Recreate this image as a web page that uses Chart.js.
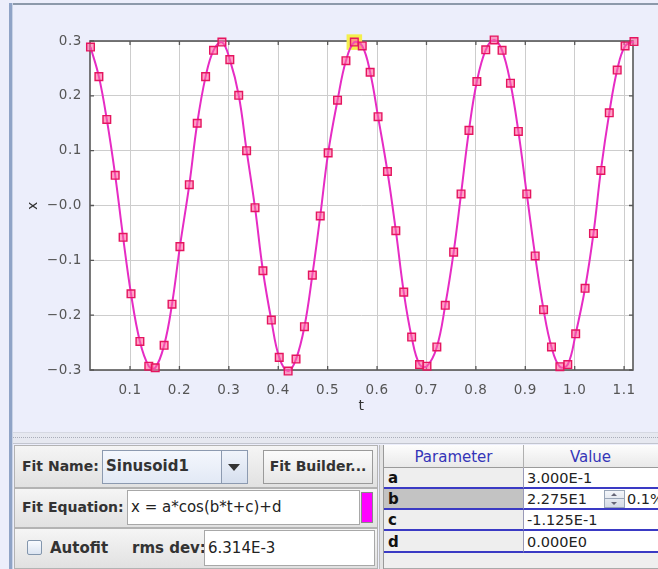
<!DOCTYPE html>
<html><head><meta charset="utf-8">
<script src="https://cdn.jsdelivr.net/npm/chart.js@4"></script>
<style>
html,body{margin:0;padding:0;}
body{width:658px;height:569px;position:relative;overflow:hidden;background:#eceefb;font-family:"DejaVu Sans",sans-serif;color:#222;}
.abs{position:absolute;box-sizing:border-box;}
#frameTop{left:9px;top:3px;right:0;height:2px;background:#8c99aa;}
#frameLeft{left:9px;top:3px;width:4px;bottom:0;background:#8fa3c6;border-right:1px solid #c9d3e6;}
#chartBox{left:0;top:0;width:658px;height:430px;}
#band{left:13px;right:0;top:432px;height:12px;background:#e6e8f0;border-top:1px solid #d5d8e2;border-bottom:1px solid #c2c5cf;}
#band:after{content:"";position:absolute;left:0;right:0;top:4px;border-top:1px dotted #a9adb9;}
.row{left:14px;width:364px;border:1px solid #b3b3b3;background:linear-gradient(#f5f5f5,#e1e1e1);}
.lbl{font-weight:bold;font-size:14px;color:#333;white-space:nowrap;}
.field{background:#fff;border:1px solid #a8a8a8;font-size:15px;color:#222;white-space:nowrap;padding-left:3px;}
.tbl{font-size:15px;white-space:nowrap;}
.pc{left:384px;width:139px;background:#eeeeee;border-bottom:2px solid #3a3ac4;font-weight:bold;color:#111;padding-left:4px;}
.vc{left:523px;width:135px;background:#fff;border-bottom:2px solid #3a3ac4;border-left:1px solid #9a9ab8;font-size:14.5px;color:#222;padding-left:3px;}
</style></head>
<body>
<div id="chartBox" class="abs"><canvas id="c" width="658" height="430"></canvas></div>
<div id="frameTop" class="abs"></div>
<div id="frameLeft" class="abs"></div>
<div id="band" class="abs"></div>

<!-- row 1 -->
<div class="abs row" style="top:445px;height:43px;"></div>
<div class="abs lbl" style="left:22px;top:458px;">Fit Name:</div>
<div class="abs" style="left:102px;top:450px;width:146px;height:34px;border:1px solid #8c9ab0;background:linear-gradient(#f4f7fd,#e2e9f5);"></div>
<div class="abs lbl" style="left:106px;top:457px;font-size:15px;color:#333;">Sinusoid1</div>
<div class="abs" style="left:221px;top:451px;width:26px;height:32px;border-left:1px solid #8c9ab0;background:linear-gradient(#f0f4fb,#d6dfee);"></div>
<div class="abs" style="left:228px;top:464px;width:0;height:0;border-left:6px solid transparent;border-right:6px solid transparent;border-top:7px solid #333;"></div>
<div class="abs" style="left:263px;top:450px;width:110px;height:34px;border:1px solid #9a9a9a;background:linear-gradient(#fbfbfb,#e6e6e6);"></div>
<div class="abs lbl" style="left:263px;top:458px;width:110px;text-align:center;">Fit Builder...</div>

<!-- row 2 -->
<div class="abs row" style="top:488px;height:40px;"></div>
<div class="abs lbl" style="left:22px;top:499px;">Fit Equation:</div>
<div class="abs field" style="left:127px;top:490px;width:233px;height:35px;line-height:33px;">x = a*cos(b*t+c)+d</div>
<div class="abs" style="left:361px;top:492px;width:12px;height:31px;background:#ff00ff;border:1px solid #888;"></div>

<!-- row 3 -->
<div class="abs row" style="top:528px;height:41px;"></div>
<div class="abs" style="left:27px;top:540px;width:15px;height:15px;border:1px solid #8396ad;background:linear-gradient(#f9fbff,#dbe4f1);border-radius:2px;"></div>
<div class="abs lbl" style="left:50px;top:539px;font-size:15px;">Autofit</div>
<div class="abs lbl" style="left:132px;top:539px;font-size:15px;">rms dev:</div>
<div class="abs field" style="left:204px;top:530px;width:171px;height:36px;line-height:34px;">6.314E-3</div>

<!-- table -->
<div class="abs" style="left:379px;top:445px;width:5px;height:124px;background:#e3e3e3;border-left:1px solid #bbb;border-right:1px solid #999;"></div>
<div class="abs tbl" style="left:384px;top:445px;width:274px;height:23px;background:linear-gradient(#fdfdfd,#e9e9e9);border-bottom:1px solid #9a9a9a;"></div>
<div class="abs tbl" style="left:384px;top:448px;width:139px;text-align:center;color:#3535b8;">Parameter</div>
<div class="abs" style="left:523px;top:445px;width:1px;height:23px;background:#b0b0b0;"></div>
<div class="abs tbl" style="left:523px;top:448px;width:135px;text-align:center;color:#3535b8;">Value</div>

<div class="abs tbl pc" style="top:468px;height:21px;line-height:21px;">a</div>
<div class="abs tbl vc" style="top:468px;height:21px;line-height:21px;">3.000E-1</div>
<div class="abs tbl pc" style="top:489px;height:21px;line-height:21px;background:#c3c3c3;">b</div>
<div class="abs tbl vc" style="top:489px;height:21px;line-height:21px;">2.275E1</div>
<div class="abs" style="left:604px;top:490px;width:21px;height:18px;border:1px solid #9aa6b8;background:linear-gradient(#f4f6fa,#d5dbe5);"></div>
<div class="abs" style="left:611px;top:493px;width:0;height:0;border-left:3px solid transparent;border-right:3px solid transparent;border-bottom:3px solid #667;"></div>
<div class="abs" style="left:604px;top:498px;width:21px;height:1px;background:#9aa6b8;"></div>
<div class="abs" style="left:611px;top:502px;width:0;height:0;border-left:3px solid transparent;border-right:3px solid transparent;border-top:3px solid #667;"></div>
<div class="abs tbl" style="left:627px;top:489px;font-size:14.5px;line-height:21px;color:#222;">0.1%</div>
<div class="abs tbl pc" style="top:510px;height:21px;line-height:21px;">c</div>
<div class="abs tbl vc" style="top:510px;height:21px;line-height:21px;">-1.125E-1</div>
<div class="abs tbl pc" style="top:531px;height:22px;line-height:22px;">d</div>
<div class="abs tbl vc" style="top:531px;height:22px;line-height:22px;">0.000E0</div>
<div class="abs" style="left:384px;top:553px;width:274px;height:16px;background:#efefef;border-bottom:1px solid #aaa;"></div>

<script>
// ---- data ----
const tVals = [0.020,0.037,0.053,0.070,0.086,0.102,0.120,0.138,0.151,0.169,
  0.185,0.201,0.220,0.236,0.253,0.269,0.286,0.302,0.320,0.336,
  0.353,0.369,0.386,0.402,0.420,0.436,0.453,0.469,0.485,0.501,
  0.520,0.537,0.554,0.570,0.586,0.602,0.621,0.638,0.654,0.670,
  0.686,0.701,0.721,0.738,0.755,0.770,0.786,0.802,0.820,0.837,
  0.853,0.870,0.886,0.903,0.920,0.937,0.953,0.970,0.986,1.002,
  1.021,1.038,1.053,1.070,1.086,1.102,1.120];
const xVals = [0.289,0.235,0.157,0.055,-0.058,-0.161,-0.248,-0.293,-0.296,-0.255,
  -0.180,-0.075,0.038,0.150,0.235,0.283,0.298,0.266,0.201,0.100,
  -0.004,-0.119,-0.209,-0.277,-0.302,-0.280,-0.221,-0.127,-0.019,0.096,
  0.192,0.264,0.298,0.291,0.243,0.162,0.062,-0.046,-0.158,-0.240,
  -0.290,-0.293,-0.258,-0.182,-0.085,0.021,0.137,0.226,0.284,0.302,
  0.283,0.223,0.135,0.021,-0.092,-0.190,-0.258,-0.294,-0.290,-0.234,
  -0.151,-0.051,0.064,0.169,0.247,0.291,0.299];
const highlightT = [0.554];
const highlightX = [0.298];
const xTicks = [0.1,0.2,0.3,0.4,0.5,0.6,0.7,0.8,0.9,1.0,1.1];
const xTickLabels = ["0.1","0.2","0.3","0.4","0.5","0.6","0.7","0.8","0.9","1.0","1.1"];
const yTicks = [-0.3,-0.2,-0.1,0.0,0.1,0.2,0.3];
const yTickLabels = ["\u22120.3","\u22120.2","\u22120.1","\u22120.0","0.1","0.2","0.3"];
const xRange = [0.019, 1.118];
const yRange = [-0.3, 0.3];

const points = tVals.map((t,i)=>({x:t,y:xVals[i]}));
const hiPoints = highlightT.map((t,i)=>({x:t,y:highlightX[i]}));

const framePlugin = {
  id:'frame',
  beforeDraw(chart){
    const {ctx, chartArea:a} = chart;
    ctx.save(); ctx.fillStyle='#ffffff';
    ctx.fillRect(a.left,a.top,a.right-a.left,a.bottom-a.top); ctx.restore();
    ctx.letterSpacing = '0.6px';
  },
  beforeDatasetsDraw(chart){
    const {ctx, chartArea:a, scales} = chart;
    const xs = scales.x, ys = scales.y;
    ctx.save();
    ctx.strokeStyle='#585858'; ctx.lineWidth=1.6;
    ctx.strokeRect(a.left,a.top,a.right-a.left,a.bottom-a.top);
    ctx.lineWidth=1.3; ctx.beginPath();
    xs.ticks.forEach(t=>{const p=xs.getPixelForValue(t.value);
      ctx.moveTo(p,a.bottom); ctx.lineTo(p,a.bottom-4);
      ctx.moveTo(p,a.top); ctx.lineTo(p,a.top+4);});
    ys.ticks.forEach(t=>{const p=ys.getPixelForValue(t.value);
      ctx.moveTo(a.left,p); ctx.lineTo(a.left+4,p);
      ctx.moveTo(a.right,p); ctx.lineTo(a.right-4,p);});
    ctx.stroke(); ctx.restore();
  },
  afterDraw(chart){ chart.ctx.letterSpacing = '0px'; }
};

const tickFont = {family:'DejaVu Sans', size:13.5};
new Chart(document.getElementById('c'), {
  type:'line',
  data:{datasets:[
    {data:points, order:1, borderColor:'#e62cc4', borderWidth:2, tension:0.4,
     pointStyle:'rect', pointRadius:5.4, pointHoverRadius:5.4,
     pointBackgroundColor:'rgba(255,100,160,0.6)', pointBorderColor:'#e5155f', pointBorderWidth:1.4,
     clip:false},
    {data:hiPoints, order:2, showLine:false, pointStyle:'rect', pointRadius:11,
     pointBackgroundColor:'#f4ef4e', pointBorderWidth:0, clip:false}
  ]},
  plugins:[framePlugin],
  options:{
    responsive:false, animation:false, events:[],
    layout:{padding:{left:25,top:41,right:25,bottom:15}},
    plugins:{legend:{display:false}, tooltip:{enabled:false}},
    scales:{
      x:{type:'linear', min:xRange[0], max:xRange[1],
        afterBuildTicks:s=>{s.ticks = xTicks.map(v=>({value:v}));},
        afterFit:s=>{s.height = 45;},
        grid:{color:'#cdcdcd', drawTicks:false, lineWidth:1},
        border:{display:false},
        ticks:{color:'#555', font:tickFont, padding:12, maxRotation:0, autoSkip:false,
          callback:(v,i)=>xTickLabels[i]},
        title:{display:true, text:'t', color:'#333', font:{family:'DejaVu Sans',size:14}, padding:0}
      },
      y:{type:'linear', min:yRange[0], max:yRange[1],
        afterBuildTicks:s=>{s.ticks = yTicks.map(v=>({value:v}));},
        afterFit:s=>{s.width = 65;},
        grid:{color:'#cdcdcd', drawTicks:false, lineWidth:1},
        border:{display:false},
        ticks:{color:'#555', font:tickFont, padding:8, autoSkip:false,
          callback:(v,i)=>yTickLabels[i]},
        title:{display:true, text:'x', color:'#333', font:{family:'DejaVu Sans',size:14}, padding:0}
      }
    }
  }
});
</script>
</body></html>
